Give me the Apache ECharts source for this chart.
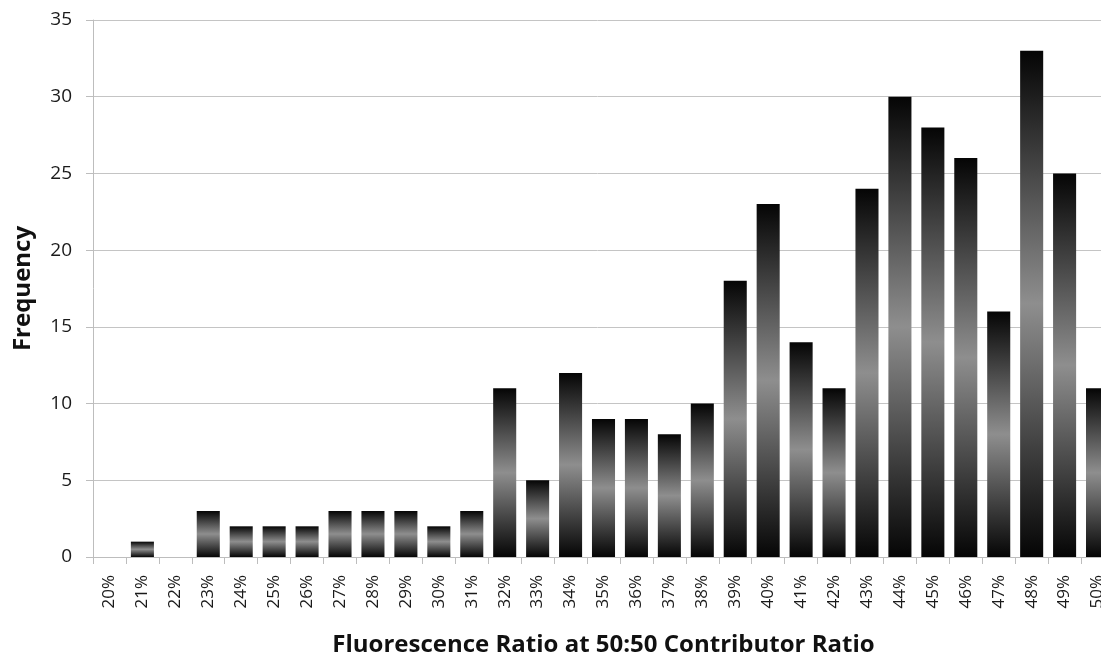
<!DOCTYPE html>
<html>
<head>
<meta charset="utf-8">
<script src="https://cdn.jsdelivr.net/npm/echarts@6/dist/echarts.min.js"></script>
<style>
  html, body { margin: 0; padding: 0; background: #fff; }
  #chart { width: 1101px; height: 657px; }
</style>
</head>
<body>
<div id="chart"></div>
<script>
// Ratio bins (x axis categories)
const categories = ['20%','21%','22%','23%','24%','25%','26%','27%','28%','29%','30%',
  '31%','32%','33%','34%','35%','36%','37%','38%','39%','40%',
  '41%','42%','43%','44%','45%','46%','47%','48%','49%','50%'];
// Frequency of each bin
const frequency = [0,1,0,3,2,2,2,3,3,3,2,
  3,11,5,12,9,9,8,10,18,23,
  14,11,24,30,28,26,16,33,25,11];
// Y axis range
const yMin = 0, yMax = 35, yStep = 5;

const chart = echarts.init(document.getElementById('chart'), null, { renderer: 'canvas' });
const font = '"Open Sans", "DejaVu Sans", sans-serif';

// Vertical metallic fill: dark at both ends, grey in the middle
const barFill = new echarts.graphic.LinearGradient(0, 0, 0, 1, [
  { offset: 0, color: '#050505' },
  { offset: 0.5, color: '#8e8e8e' },
  { offset: 1, color: '#050505' }
]);

chart.setOption({
  animation: false,
  // plot runs past the right edge of the canvas, so the last bin is cut off
  grid: { left: 93, top: 20, height: 537, width: 1021, containLabel: false, outerBoundsMode: 'none' },
  xAxis: {
    type: 'category',
    data: categories,
    name: 'Fluorescence Ratio at 50:50 Contributor Ratio',
    nameLocation: 'middle',
    nameGap: 76,
    nameTextStyle: { fontFamily: font, fontSize: 24, fontWeight: 'bold', color: '#111' },
    axisLine: { lineStyle: { color: '#bdbdbd', width: 1 } },
    axisTick: { show: true, alignWithLabel: false, length: 7, lineStyle: { color: '#bdbdbd' } },
    axisLabel: { rotate: 90, margin: 18, fontFamily: font, fontSize: 17, color: '#1a1a1a', interval: 0 }
  },
  yAxis: {
    type: 'value',
    min: yMin, max: yMax, interval: yStep,
    name: 'Frequency',
    nameLocation: 'middle',
    nameGap: 58,
    nameRotate: 90,
    nameTextStyle: { fontFamily: font, fontSize: 24, fontWeight: 'bold', color: '#111' },
    axisLine: { show: true, lineStyle: { color: '#bdbdbd', width: 1 } },
    axisTick: { show: true, length: 7, lineStyle: { color: '#bdbdbd' } },
    axisLabel: { margin: 21, fontFamily: font, fontSize: 19, color: '#1a1a1a' },
    splitLine: { lineStyle: { color: '#c4c4c4', width: 1 } }
  },
  series: [{
    type: 'bar',
    data: frequency,
    barCategoryGap: '30%',
    itemStyle: { color: barFill, borderWidth: 0 }
  }]
});
</script>
</body>
</html>
